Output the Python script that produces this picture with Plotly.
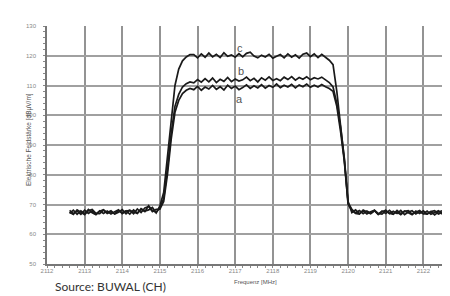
import plotly.graph_objects as go

# Frequency grid [MHz]
freq = [2112.6, 2112.7, 2112.8, 2112.9, 2113.0, 2113.1, 2113.2, 2113.3, 2113.4, 2113.5,
        2113.6, 2113.7, 2113.8, 2113.9, 2114.0, 2114.1, 2114.2, 2114.3, 2114.4, 2114.5,
        2114.6, 2114.7, 2114.8, 2114.9, 2115.0, 2115.1, 2115.2, 2115.3, 2115.4, 2115.5,
        2115.6, 2115.7, 2115.8, 2115.9, 2116.0, 2116.1, 2116.2, 2116.3, 2116.4, 2116.5,
        2116.6, 2116.7, 2116.8, 2116.9, 2117.0, 2117.1, 2117.2, 2117.3, 2117.4, 2117.5,
        2117.6, 2117.7, 2117.8, 2117.9, 2118.0, 2118.1, 2118.2, 2118.3, 2118.4, 2118.5,
        2118.6, 2118.7, 2118.8, 2118.9, 2119.0, 2119.1, 2119.2, 2119.3, 2119.4, 2119.5,
        2119.6, 2119.7, 2119.8, 2119.9, 2120.0, 2120.1, 2120.2, 2120.3, 2120.4, 2120.5,
        2120.6, 2120.7, 2120.8, 2120.9, 2121.0, 2121.1, 2121.2, 2121.3, 2121.4, 2121.5,
        2121.6, 2121.7, 2121.8, 2121.9, 2122.0, 2122.1, 2122.2, 2122.3, 2122.4, 2122.5]

# Field strength [dBµV/m]
curve_a = [67.0, 68.1, 66.7, 67.9, 66.9, 68.3, 67.2, 66.6, 67.9, 67.0,
           67.8, 66.8, 67.6, 68.2, 66.9, 67.7, 68.1, 66.9, 68.5, 67.3,
           68.8, 69.3, 67.6, 68.4,
           68.4, 71.0, 80.0, 92.0, 101.0, 105.0, 107.3, 108.4, 109.0,
           108.6, 109.7, 108.4, 109.5, 108.8, 110.0, 108.7, 109.6, 108.5, 110.1,
           109.0, 109.8, 108.6, 109.3, 110.2, 109.0, 109.9, 109.2, 110.3, 109.1,
           110.0, 109.4, 110.5, 109.3, 110.1, 109.5, 110.4, 109.2, 110.2, 109.6,
           110.5, 109.4, 110.1, 109.5, 110.3, 109.6,
           109.0, 108.0, 103.0, 94.5, 84.5, 70.5,
           68.4, 67.2, 68.0, 66.9, 67.8, 67.1, 68.0, 66.7, 67.6, 68.1,
           66.9, 67.7, 67.0, 68.0, 66.6, 67.5, 67.9, 66.8, 67.6, 66.9,
           67.8, 66.7, 67.4, 67.9, 66.8]

curve_b = [68.0, 66.9, 67.8, 66.7, 68.1, 67.0, 67.9, 66.8, 67.7, 68.2,
           67.0, 67.6, 66.9, 68.0, 67.2, 67.9, 66.8, 68.2, 67.1, 68.4,
           67.6, 69.6, 68.0, 67.3,
           68.9, 72.0, 82.0, 94.0, 103.0, 107.0, 109.5, 110.6, 111.2,
           110.9, 112.0, 111.1, 112.3, 111.2, 112.5, 111.0, 112.1, 111.4, 112.7,
           111.3, 112.2, 111.5, 111.9, 112.8, 111.6, 112.4, 111.2, 112.6, 111.8,
           112.9, 111.7, 112.3, 111.6, 112.8, 112.0, 113.0, 111.8, 112.7, 112.1,
           112.9, 111.9, 112.6, 112.2, 112.8, 111.9,
           111.0, 109.5, 104.0, 96.0, 85.5, 71.0,
           67.3, 68.2, 66.9, 67.9, 66.8, 67.6, 68.1, 67.0, 66.8, 67.9,
           67.1, 66.7, 68.0, 66.9, 67.8, 67.2, 66.6, 67.8, 67.0, 67.9,
           66.8, 67.6, 66.5, 67.5, 67.9]

curve_c = [67.4, 66.7, 68.2, 67.3, 66.6, 67.9, 68.3, 67.0, 66.9, 68.1,
           67.3, 67.9, 66.8, 67.4, 68.3, 66.9, 68.0, 67.5, 67.0, 68.6,
           67.8, 68.2, 69.0, 67.2,
           69.5, 74.0, 86.0, 100.0, 110.0, 115.5, 118.3, 119.6, 120.4,
           120.4, 119.3, 120.6, 119.5, 120.9, 119.6, 120.5, 119.4, 121.0, 119.8,
           120.3, 119.5, 120.7, 119.6, 120.8, 121.2, 119.9, 119.3, 120.2, 119.6,
           120.5, 119.2, 119.8, 120.4, 119.3, 120.6, 119.5, 120.3, 119.2, 120.5,
           120.9, 119.7, 120.6, 119.4, 120.5, 119.6,
           118.5, 117.0, 108.0, 96.5, 85.0, 70.0,
           68.0, 67.0, 66.8, 68.1, 67.5, 66.9, 67.9, 66.7, 67.8, 67.0,
           68.0, 66.9, 67.5, 66.6, 67.7, 67.9, 66.8, 67.4, 68.0, 66.9,
           66.8, 67.6, 67.9, 66.8, 67.3]

curve_labels = ["c", "b", "a"]
label_x = [2117.12, 2117.15, 2117.12]
label_y = [122.6, 114.9, 105.5]

x_ticks = [2112, 2113, 2114, 2115, 2116, 2117, 2118, 2119, 2120, 2121, 2122]
y_ticks = [50, 60, 70, 80, 90, 100, 110, 120, 130]

assert len(curve_a) == len(freq) and len(curve_b) == len(freq) and len(curve_c) == len(freq)

fig = go.Figure()
for ys in (curve_a, curve_b, curve_c):
    fig.add_trace(go.Scatter(x=freq, y=ys, mode="lines",
                             line=dict(color="#1a1a1a", width=1.7),
                             showlegend=False, hoverinfo="skip"))

for t, lx, ly in zip(curve_labels, label_x, label_y):
    fig.add_annotation(x=lx, y=ly, text=t, showarrow=False,
                       font=dict(family="Arial", size=11, color="#555"))

fig.update_layout(
    width=450, height=296,
    margin=dict(l=39, r=0, t=18, b=40),
    paper_bgcolor="white", plot_bgcolor="white",
    showlegend=False,
)
fig.update_xaxes(range=[2112, 2122.92], tickvals=x_ticks,
                 ticktext=[str(v) for v in x_ticks],
                 showgrid=True, gridcolor="#939393", gridwidth=1.5,
                 showline=True, linecolor="#777", linewidth=1.5,
                 zeroline=False,
                 tickfont=dict(family="Arial", size=6, color="#888"),
                 ticks="", ticklabelstandoff=0,
                 minor=dict(dtick=0.2, ticks="outside", ticklen=2, tickcolor="#888", showgrid=False))
fig.update_yaxes(range=[50, 130], tickvals=y_ticks,
                 showgrid=True, gridcolor="#a0a0a0", gridwidth=1.5,
                 showline=True, linecolor="#777", linewidth=1.5,
                 zeroline=False,
                 tickfont=dict(family="Arial", size=6, color="#888"),
                 ticks="", ticklabelstandoff=8,
                 minor=dict(dtick=2, ticks="outside", ticklen=2, tickcolor="#888", showgrid=False))

# axis titles
fig.add_annotation(xref="paper", yref="paper", x=(247 - 39) / 411, y=(256 - 279) / 238,
                   text="Frequenz [MHz]", showarrow=False,
                   font=dict(family="Arial", size=6, color="#555"))
fig.add_annotation(xref="paper", yref="paper", x=(15 - 39) / 411, y=(256 - 132) / 238,
                   text="Elektrische Feldstärke [dBµV/m]", showarrow=False, textangle=-90,
                   font=dict(family="Arial", size=6.5, color="#555"))
# source
fig.add_annotation(xref="paper", yref="paper", x=(45 - 39) / 411, y=(256 - 288) / 238,
                   xanchor="left", text="Source: BUWAL (CH)", showarrow=False,
                   font=dict(family="Lato", size=12, color="#333"))

fig.write_html("out.html")
